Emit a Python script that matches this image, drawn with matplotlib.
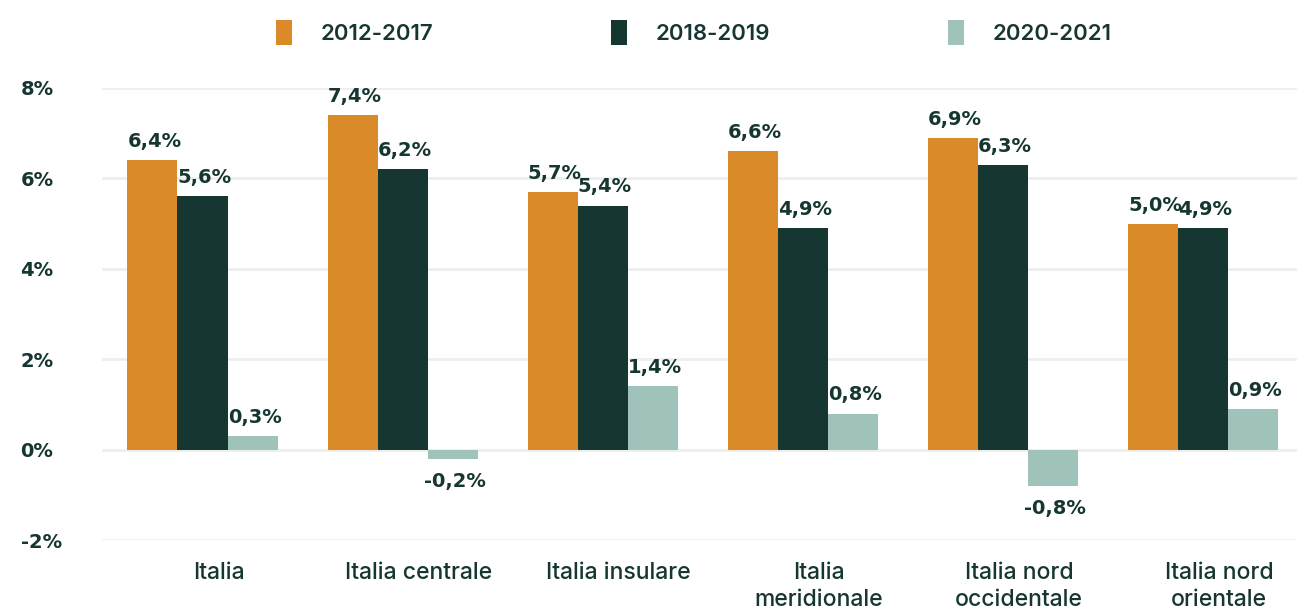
import numpy as np
import matplotlib.pyplot as plt
from matplotlib.patches import Patch

categories = ["Italia", "Italia centrale", "Italia insulare", "Italia\nmeridionale",
              "Italia nord\noccidentale", "Italia nord\norientale"]
series_names = ["2012-2017", "2018-2019", "2020-2021"]
v_2012_2017 = [6.4, 7.4, 5.7, 6.6, 6.9, 5.0]
v_2018_2019 = [5.6, 6.2, 5.4, 4.9, 6.3, 4.9]
v_2020_2021 = [0.3, -0.2, 1.4, 0.8, -0.8, 0.9]
y_ticks = [-2, 0, 2, 4, 6, 8]

colors = ["#DB8A2A", "#163632", "#9FC2BA"]
text_col = "#163632"

fig = plt.figure(figsize=(12.97, 6.11), dpi=100)
ax = fig.add_axes([0.079, 0.116, 0.921, 0.74])

x = np.arange(len(categories))
w = 0.25
for i, vals in enumerate([v_2012_2017, v_2018_2019, v_2020_2021]):
    pos = x + (i - 1) * w
    ax.bar(pos, vals, width=w, color=colors[i], zorder=3)
    for p, v in zip(pos, vals):
        lab = f"{v:.1f}%".replace(".", ",")
        if v >= 0:
            ax.text(p + 0.01, v + 0.2, lab, ha="center", va="bottom", fontsize=14,
                    fontweight="bold", color=text_col, family="DejaVu Sans")
        else:
            ax.text(p + 0.01, v - 0.3, lab, ha="center", va="top", fontsize=14,
                    fontweight="bold", color=text_col, family="DejaVu Sans")

ax.set_xlim(-0.5, 5.47)
ax.set_ylim(-2, 8)
ax.set_yticks(y_ticks)
ax.set_yticklabels([f"{t}%" for t in y_ticks], fontsize=14, fontweight="bold",
                   color=text_col, family="DejaVu Sans")
ax.set_xticks(x + 0.08)
ax.set_xticklabels(categories, fontsize=16.5, color=text_col, family="Inter",
                   fontweight="medium", va="top", linespacing=1.3)
ax.tick_params(axis="both", length=0)
ax.tick_params(axis="x", pad=16)
ax.tick_params(axis="y", pad=59)
for lab in ax.get_yticklabels():
    lab.set_horizontalalignment("left")
ax.grid(axis="y", color="#EEEEEE", linewidth=2, zorder=0)
for s in ax.spines.values():
    s.set_visible(False)

handles = [Patch(facecolor=c) for c in colors]
fig.legend(handles, series_names, loc="upper center", bbox_to_anchor=(0.535, 1.0),
           ncol=3, frameon=False, columnspacing=8.0, handlelength=0.7,
           handleheight=1.35, handletextpad=1.3,
           prop={"family": "Inter", "weight": "semibold", "size": 16},
           labelcolor=text_col)

fig.savefig("out.png", dpi=100, facecolor="white")
